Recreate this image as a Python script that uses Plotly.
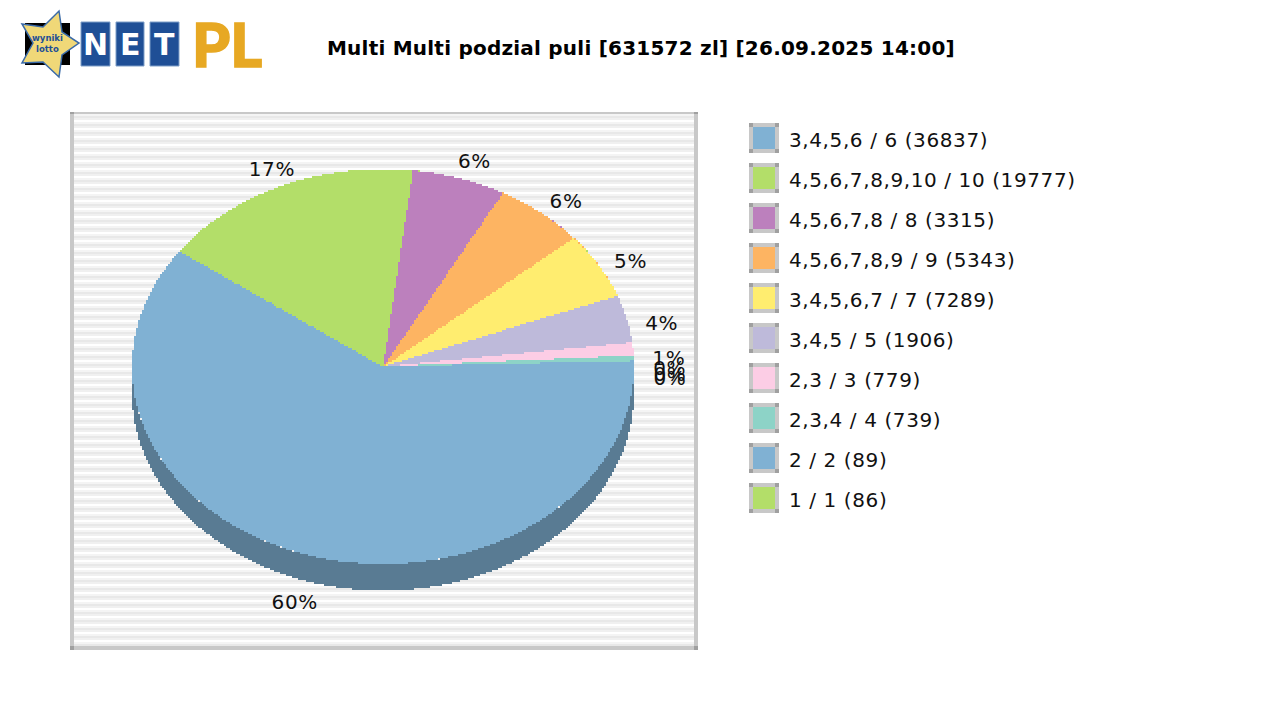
import math
import plotly.graph_objects as go

# ---- data -------------------------------------------------------------
TITLE = "Multi Multi podzial puli [631572 zl] [26.09.2025 14:00]"
legend_labels = ["3,4,5,6 / 6 (36837)", "4,5,6,7,8,9,10 / 10 (19777)", "4,5,6,7,8 / 8 (3315)",
                 "4,5,6,7,8,9 / 9 (5343)", "3,4,5,6,7 / 7 (7289)", "3,4,5 / 5 (1906)",
                 "2,3 / 3 (779)", "2,3,4 / 4 (739)", "2 / 2 (89)", "1 / 1 (86)"]
shares = [59.95, 16.95, 6.0, 5.8, 5.45, 3.9, 1.05, 0.45, 0.38, 0.07]
colors = ["#80b1d3", "#b3de69", "#bc80bd", "#fdb462", "#ffed6f",
          "#bebada", "#fccde5", "#8dd3c7", "#80b1d3", "#b3de69"]

# ---- geometry (pixels) -------------------------------------------------
CX, CY, RX, RY, DEPTH = 383, 366.5, 251, 197.5, 26.5
LX, LY, LRX, LRY = 384, 380, 287, 228
FONT = "DejaVu Sans"


def darker(hex_color, k=0.7):
    r, g, b = (int(hex_color[i:i + 2], 16) for i in (1, 3, 5))
    return f"rgb({int(r * k)},{int(g * k)},{int(b * k)})"


def snap(v):
    return round(v / 2) * 2


def pt(cw_deg, dy=0):
    a = math.radians(cw_deg)
    return CX + RX * math.cos(a), CY + RY * math.sin(a) + dy


def arc(start, end, dy=0):
    n = max(2, int(abs(end - start) * 6) + 2)
    return [pt(start + (end - start) * i / (n - 1), dy) for i in range(n)]


def radial(p, q, steps=140):
    return [(p[0] + (q[0] - p[0]) * i / steps, p[1] + (q[1] - p[1]) * i / steps) for i in range(steps + 1)]


def draw(pts, fill, name=None):
    sx, sy = [], []
    for x, y in pts:
        a, b = snap(x), snap(y)
        if not sx or sx[-1] != a or sy[-1] != b:
            sx.append(a)
            sy.append(b)
    fig.add_trace(go.Scatter(x=sx, y=sy, mode="lines", fill="toself", fillcolor=fill,
                             line=dict(width=0, shape="hv"),
                             hoverinfo="name" if name else "skip", name=name, showlegend=False))


fig = go.Figure()
total = sum(shares)
angle = 0.0
bounds = []
for v in shares:
    bounds.append((angle, angle + 360 * v / total))
    angle += 360 * v / total

# side wall
for (a0, a1), col in zip(bounds, colors):
    s, e = max(a0, 0), min(a1, 180)
    if e > s:
        top = arc(s, e)
        draw(top + arc(e, s, DEPTH) + [top[0]], darker(col))
# top slices: each one is painted from its start angle round to the end of the
# pie and the next one over it, so stepped edges leave no seams between slices
for (a0, a1), col, name in zip(bounds, colors, legend_labels):
    a = arc(a0, 360)
    draw(radial((CX, CY), a[0]) + a + radial(a[-1], (CX, CY)), col, name)
# percent labels
lx, ly, lt = [], [], []
for (a0, a1), v in zip(bounds, shares):
    m = math.radians((a0 + a1) / 2)
    s = math.sin(m)
    lx.append(LX + LRX * math.cos(m) + (-1 if s > 0 else 5 * s * s - 1))
    ly.append(LY + LRY * s + (7 if s > 0 else 0))
    lt.append(f"{round(100 * v / total)}%")
fig.add_trace(go.Scatter(x=lx, y=ly, mode="text", text=lt, textposition="middle center",
                         textfont=dict(family=FONT, size=20, color="#111111"), hoverinfo="skip", showlegend=False))

# legend
n = len(legend_labels)
lgx = [764] * n
lgy = [138 + 40 * i for i in range(n)]
fig.add_trace(go.Scatter(x=lgx, y=lgy, mode="markers",
                         marker=dict(symbol="square", size=26, color=colors, line=dict(width=4, color="#c8c8c8")),
                         hoverinfo="skip", showlegend=False))
cx_, cy_ = [], []
for y in lgy:
    for dx in (-13, 13):
        for dy in (-13, 13):
            cx_.append(764 + dx)
            cy_.append(y + dy)
fig.add_trace(go.Scatter(x=cx_, y=cy_, mode="markers", marker=dict(symbol="square", size=4, color="#a0a0a0"),
                         hoverinfo="skip", showlegend=False))
fig.add_trace(go.Scatter(x=[789] * n, y=[y + 4 for y in lgy], mode="text", text=legend_labels,
                         textposition="middle right", textfont=dict(family=FONT, size=20, color="#111111"),
                         hoverinfo="skip", showlegend=False))

# background frame + stripes
shapes = [dict(type="rect", x0=70, x1=698, y0=112, y1=650, fillcolor="#ffffff", line_width=0, layer="below")]
stripe_cols = ["#f4f4f4", "#e8e8e8", "#f0f0f0", "#ffffff"]
y = 114
i = 0
while y < 646:
    shapes.append(dict(type="rect", x0=74, x1=694, y0=y, y1=min(y + 2, 646),
                       fillcolor=stripe_cols[i % 4], line_width=0, layer="below"))
    y += 2
    i += 1
for x0, x1, y0, y1 in [(70, 698, 112, 114), (70, 698, 646, 650), (70, 74, 112, 650), (694, 698, 112, 650)]:
    shapes.append(dict(type="rect", x0=x0, x1=x1, y0=y0, y1=y1, fillcolor="#c8c8c8", line_width=0, layer="below"))
for x0, y0 in [(70, 112), (694, 112), (70, 646), (694, 646)]:
    shapes.append(dict(type="rect", x0=x0, x1=x0 + 4, y0=y0, y1=y0 + (2 if y0 == 112 else 4),
                       fillcolor="#a0a0a0", line_width=0, layer="below"))

# logo
shapes.append(dict(type="rect", x0=25, x1=70, y0=23, y1=65, fillcolor="#000000", line_width=0))
star = [(59, 11), (62, 32), (79, 43), (62, 55), (59, 77), (43, 62), (22, 63), (33, 43), (22, 24), (43, 27)]
shapes.append(dict(type="path", path="M" + " L".join(f"{a},{b}" for a, b in star) + " Z",
                   fillcolor="#f0d878", line=dict(color="#3a6aa8", width=1.5)))
boxes = [(81, 110, "N"), (116, 144, "E"), (150, 179, "T")]
for x0, x1, _ in boxes:
    shapes.append(dict(type="rect", x0=x0, x1=x1, y0=22, y1=66, fillcolor="#1f4f96",
                       line=dict(color="#7f9fc8", width=1)))

annotations = []
for x0, x1, ch in boxes:
    annotations.append(dict(x=(x0 + x1) / 2, y=44, text=f"<b>{ch}</b>", showarrow=False, xref="x", yref="y",
                            font=dict(family="DejaVu Sans", size=30, color="#ffffff")))
annotations.append(dict(x=226.5, y=43, text="PL", showarrow=False, xref="x", yref="y",
                        font=dict(family="Lato", size=61, weight=900, color="#e7a823")))
annotations.append(dict(x=47, y=38, text="<b>wyniki</b>", showarrow=False, xref="x", yref="y",
                        font=dict(family="DejaVu Sans", size=8.5, color="#1f4f96")))
annotations.append(dict(x=47, y=49, text="<b>lotto</b>", showarrow=False, xref="x", yref="y",
                        font=dict(family="DejaVu Sans", size=8.5, color="#1f4f96")))

fig.update_layout(
    width=1280, height=720, margin=dict(l=0, r=0, t=0, b=0, pad=0),
    paper_bgcolor="#ffffff", plot_bgcolor="rgba(0,0,0,0)",
    title=dict(text=f"<b>{TITLE}</b>", x=327 / 1280, xanchor="left", xref="paper",
               y=1 - 48 / 720, yanchor="middle", yref="paper", pad=dict(l=0, r=0, t=0, b=0),
               font=dict(family=FONT, size=20, color="#000000")),
    xaxis=dict(range=[0, 1280], visible=False, fixedrange=True),
    yaxis=dict(range=[720, 0], visible=False, fixedrange=True),
    shapes=shapes, annotations=annotations, showlegend=False,
)
POST = """
document.body.style.margin='0';
document.querySelectorAll('.scatterlayer text').forEach(function(t){
  t.style.letterSpacing = t.textContent.length > 4 ? '0.6px' : '0.7px';
});
document.querySelectorAll('.gtitle').forEach(function(t){ t.style.letterSpacing='0.22px'; });
document.querySelectorAll('.scatterlayer .trace path').forEach(function(p){ p.style.shapeRendering='crispEdges'; });
document.querySelectorAll('.annotation-text').forEach(function(t){
  if (t.textContent === 'PL') { t.style.stroke = '#e7a823'; t.style.strokeWidth = '1.5px'; }
});
"""
fig.write_html("out.html", post_script=POST, config=dict(displayModeBar=False))
